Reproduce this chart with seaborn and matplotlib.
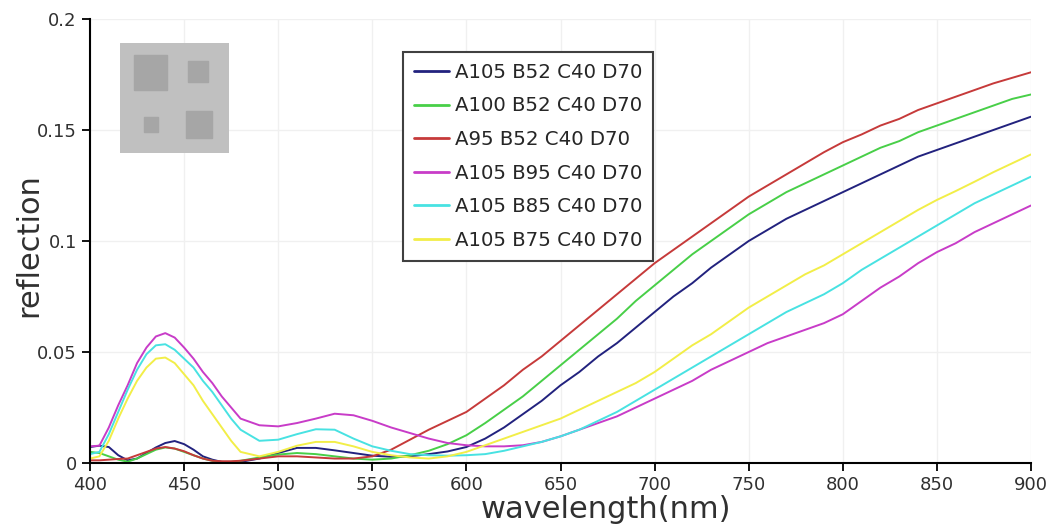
import matplotlib
matplotlib.use("Agg")
import matplotlib.pyplot as plt
from matplotlib.patches import Rectangle
import seaborn as sns
import pandas as pd

wavelength = [400, 405, 410, 415, 420, 425, 430, 435, 440, 445, 450, 455, 460, 465, 470, 475, 480,
              490, 500, 510, 520, 530, 540, 550, 560, 570, 580, 590, 600, 610, 620, 630, 640,
              650, 660, 670, 680, 690, 700, 710, 720, 730, 740, 750, 760, 770, 780, 790, 800,
              810, 820, 830, 840, 850, 860, 870, 880, 890, 900]

labels = ["A105 B52 C40 D70", "A100 B52 C40 D70", "A95 B52 C40 D70",
          "A105 B95 C40 D70", "A105 B85 C40 D70", "A105 B75 C40 D70"]

a105_b52 = [.0072, .0078, .0072, .0035, .0012, .002, .0045, .007, .009, .0099, .0085, .006, .003, .0015, .0005, .0003, .0005,
            .002, .0045, .0068, .0068, .0057, .0045, .0033, .0028, .003, .004, .0052, .0072, .011, .016, .022, .028,
            .035, .041, .048, .054, .061, .068, .075, .081, .088, .094, .100, .105, .110, .114, .118, .122,
            .126, .130, .134, .138, .141, .144, .147, .150, .153, .156]
a100_b52 = [.005, .0045, .003, .0015, .0006, .002, .004, .006, .007, .0065, .005, .0035, .002, .001, .0003, .0005, .001,
            .0025, .0038, .0045, .004, .003, .002, .0015, .002, .0035, .0055, .0085, .0125, .018, .024, .030, .037,
            .044, .051, .058, .065, .073, .080, .087, .094, .100, .106, .112, .117, .122, .126, .130, .134,
            .138, .142, .145, .149, .152, .155, .158, .161, .164, .166]
a95_b52 = [.0012, .0012, .0015, .0018, .002, .0035, .005, .0065, .0072, .0065, .0053, .0035, .002, .001, .0008, .0008, .001,
           .002, .003, .003, .0025, .002, .002, .003, .006, .0105, .015, .019, .023, .029, .035, .042, .048,
           .055, .062, .069, .076, .083, .090, .096, .102, .108, .114, .120, .125, .130, .135, .140, .1445,
           .148, .152, .155, .159, .162, .165, .168, .171, .1735, .176]
a105_b95 = [.0075, .0078, .016, .026, .035, .045, .052, .057, .0585, .0565, .052, .047, .041, .036, .030, .025, .020,
            .017, .0165, .018, .020, .0222, .0215, .019, .016, .0135, .011, .009, .008, .0075, .0075, .008, .0095,
            .012, .015, .018, .021, .025, .029, .033, .037, .042, .046, .050, .054, .057, .060, .063, .067,
            .073, .079, .084, .090, .095, .099, .104, .108, .112, .116]
a105_b85 = [.004, .005, .013, .023, .033, .042, .049, .053, .0535, .051, .047, .043, .037, .032, .026, .020, .015,
            .010, .0105, .013, .0152, .015, .011, .0075, .0055, .004, .0035, .0033, .0035, .004, .0055, .0075, .0095,
            .012, .015, .019, .023, .028, .033, .038, .043, .048, .053, .058, .063, .068, .072, .076, .081,
            .087, .092, .097, .102, .107, .112, .117, .121, .125, .129]
a105_b75 = [.002, .003, .010, .020, .029, .037, .043, .047, .0475, .045, .040, .035, .028, .022, .016, .010, .005,
            .003, .005, .0078, .0095, .0095, .0075, .005, .0035, .0025, .002, .003, .005, .008, .011, .014, .017,
            .020, .024, .028, .032, .036, .041, .047, .053, .058, .064, .070, .075, .080, .085, .089, .094,
            .099, .104, .109, .114, .1185, .1225, .1267, .131, .135, .139]

colors = ["#22227e", "#48cf48", "#c63a3a", "#c83cc8", "#48e2e2", "#f2ee48"]

series = [a105_b52, a100_b52, a95_b52, a105_b95, a105_b85, a105_b75]
rows = []
for lab, vals in zip(labels, series):
    for w, v in zip(wavelength, vals):
        rows.append({"wavelength": w, "reflection": v, "series": lab})
df = pd.DataFrame(rows)

sns.set_theme(style="white")
plt.rcParams["font.family"] = ["DejaVu Sans"]

fig = plt.figure(figsize=(10.53, 5.29), dpi=100)
ax = fig.add_axes([90 / 1053, 66 / 529, 941 / 1053, 444 / 529])

sns.lineplot(data=df, x="wavelength", y="reflection", hue="series", hue_order=labels,
             palette=dict(zip(labels, colors)), linewidth=1.4, ax=ax, sort=False)

ax.set_xlim(400, 900)
ax.set_ylim(0, 0.2)
ax.set_xticks([400, 450, 500, 550, 600, 650, 700, 750, 800, 850, 900])
ax.set_yticks([0, 0.05, 0.1, 0.15, 0.2])
ax.set_yticklabels(["0", "0.05", "0.1", "0.15", "0.2"])
ax.grid(True, color="#f0f0f0", linewidth=1.0)
ax.set_axisbelow(True)
for s in ["top", "right"]:
    ax.spines[s].set_visible(False)
for s in ["left", "bottom"]:
    ax.spines[s].set_color("black")
    ax.spines[s].set_linewidth(1.5)
ax.tick_params(axis="both", direction="out", length=6, width=1.3, color="black",
               labelsize=13, labelcolor="#303030", left=True, bottom=True)

ax.set_xlabel("wavelength(nm)", fontsize=22, color="#303030")
ax.set_ylabel("reflection", fontsize=22, color="#303030")
ax.xaxis.set_label_coords(0.548, -0.072)
ax.yaxis.set_label_coords(-0.05, 0.49)

handles, labs = ax.get_legend_handles_labels()
leg = ax.legend(handles, labs, loc="upper left", bbox_to_anchor=(0.3326, 0.9257),
                borderaxespad=0, fontsize=14.2, frameon=True, fancybox=False,
                handlelength=1.8, handletextpad=0.3, labelspacing=0.74,
                borderpad=0.55, edgecolor="#404040", facecolor="white", framealpha=1)
leg.get_frame().set_linewidth(1.5)
for line in leg.get_lines():
    line.set_linewidth(2.0)

# decorative inset picture
ins = fig.add_axes([120 / 1053, (529 - 153) / 529, 109 / 1053, 110 / 529])
ins.set_xlim(0, 109)
ins.set_ylim(110, 0)
ins.axis("off")
ins.add_patch(Rectangle((0, 0), 109, 110, color="#c0c0c0"))
for (x0, y0, w, h) in [(14, 12, 33, 35), (68, 18, 20, 21), (24, 74, 14, 15), (66, 68, 26, 27)]:
    ins.add_patch(Rectangle((x0, y0), w, h, color="#a6a6a6"))

fig.savefig("out.png", dpi=100)
